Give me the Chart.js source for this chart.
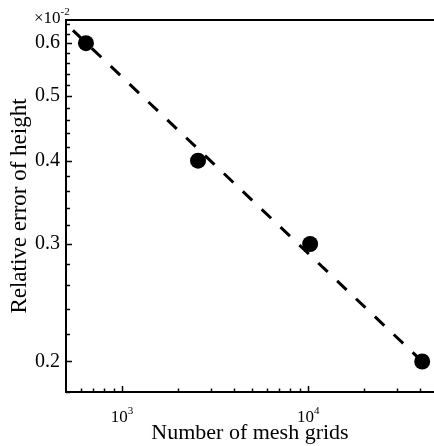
<!DOCTYPE html>
<html><head><meta charset="utf-8">
<style>html,body{margin:0;padding:0;background:#fff}</style>
<script src="https://cdn.jsdelivr.net/npm/chart.js@4"></script>
</head><body>
<canvas id="c" width="434" height="446" style="display:block;width:434px;height:446px"></canvas>
<script>
// ---- data ----
const meshGrids = [640, 2560, 10240, 40960];
const relError = [0.6, 0.4, 0.3, 0.2];           // x10^-2
const fitX = [545, 40960];
const fitY = [0.627, 0.2];
const xMajorTicks = [1000, 10000];
const xTickLabels = [['10', '3'], ['10', '4']];
const xMinorTicks = [600, 700, 800, 900, 2000, 3000, 4000, 5000, 6000, 7000, 8000, 9000, 20000, 30000, 40000];
const yMajorTicks = [0.2, 0.3, 0.4, 0.5, 0.6];
const yTickLabels = ['0.2', '0.3', '0.4', '0.5', '0.6'];
const yMinorTicks = [0.18, 0.22, 0.24, 0.26, 0.28, 0.32, 0.34, 0.36, 0.38, 0.42, 0.44, 0.46, 0.48, 0.52, 0.54, 0.56, 0.58, 0.62, 0.64];
const xRange = [500, 47400];
const yRange = [0.18, 0.65];
const xTitle = 'Number of mesh grids';
const yTitle = 'Relative error of height';
const yMultiplier = ['\u00d710', '-2'];

const FONT = 'Liberation Serif';
Chart.defaults.font.family = FONT;
Chart.defaults.color = '#000';

const axesPlugin = {
  id: 'axesPlugin',
  afterDraw(chart) {
    const ctx = chart.ctx;
    const a = chart.chartArea;
    const xs = chart.scales.x, ys = chart.scales.y;
    ctx.save();
    ctx.strokeStyle = '#000';
    ctx.lineCap = 'butt';
    // ticks
    ctx.lineWidth = 1.5;
    ctx.beginPath();
    yMajorTicks.forEach(v => { const p = Math.round(ys.getPixelForValue(v)) + 0.5; ctx.moveTo(a.left, p); ctx.lineTo(a.left + 6, p); });
    yMinorTicks.forEach(v => { const p = Math.round(ys.getPixelForValue(v)) + 0.5; ctx.moveTo(a.left, p); ctx.lineTo(a.left + 4, p); });
    xMajorTicks.forEach(v => { const p = Math.round(xs.getPixelForValue(v)) + 0.5; ctx.moveTo(p, a.bottom); ctx.lineTo(p, a.bottom - 6); });
    xMinorTicks.forEach(v => { const p = Math.round(xs.getPixelForValue(v)) + 0.5; ctx.moveTo(p, a.bottom); ctx.lineTo(p, a.bottom - 3.5); });
    ctx.stroke();
    // axis lines
    ctx.lineWidth = 2;
    ctx.beginPath();
    ctx.moveTo(a.left, a.top); ctx.lineTo(a.right, a.top);
    ctx.moveTo(a.left, a.top - 1); ctx.lineTo(a.left, a.bottom + 1);
    ctx.moveTo(a.left - 1, a.bottom); ctx.lineTo(a.right, a.bottom);
    ctx.stroke();
    // x tick labels with superscripts
    ctx.fillStyle = '#000';
    ctx.textBaseline = 'alphabetic';
    ctx.textAlign = 'left';
    xMajorTicks.forEach((v, i) => {
      const p = xs.getPixelForValue(v);
      const [base, sup] = xTickLabels[i];
      ctx.font = '17px "' + FONT + '"';
      const wb = ctx.measureText(base).width;
      ctx.font = '11px "' + FONT + '"';
      const ws = ctx.measureText(sup).width;
      const x0 = p - (wb + ws) / 2;
      ctx.font = '17px "' + FONT + '"';
      ctx.fillText(base, x0, a.bottom + 30);
      ctx.font = '11px "' + FONT + '"';
      ctx.fillText(sup, x0 + wb, a.bottom + 22);
    });
    // multiplier label
    ctx.font = '17px "' + FONT + '"';
    const wm = ctx.measureText(yMultiplier[0]).width;
    const mx = a.left - 32;
    ctx.fillText(yMultiplier[0], mx, a.top + 3);
    ctx.font = '11px "' + FONT + '"';
    ctx.fillText(yMultiplier[1], mx + wm, a.top - 5);
    ctx.restore();
  }
};

new Chart(document.getElementById('c'), {
  type: 'scatter',
  data: {
    datasets: [
      {
        data: fitX.map((x, i) => ({ x, y: fitY[i] })),
        showLine: true,
        borderColor: '#000',
        borderWidth: 3,
        borderDash: [13, 13],
        pointRadius: 0,
        fill: false,
        clip: false
      },
      {
        data: meshGrids.map((x, i) => ({ x, y: relError[i] })),
        showLine: false,
        pointRadius: 8,
        pointBackgroundColor: '#000',
        pointBorderWidth: 0,
        clip: false
      }
    ]
  },
  options: {
    responsive: false,
    animation: false,
    events: [],
    layout: { autoPadding: false, padding: { top: 20, right: 0, left: 0, bottom: 0 } },
    plugins: { legend: { display: false }, tooltip: { enabled: false } },
    scales: {
      x: {
        type: 'logarithmic',
        min: xRange[0], max: xRange[1],
        grid: { display: false, drawTicks: false },
        border: { display: false },
        ticks: { display: false },
        afterBuildTicks(s) { s.ticks = xMajorTicks.map(v => ({ value: v })); },
        afterFit(s) { s.height = 54; s.paddingLeft = 0; s.paddingRight = 0; },
        title: { display: true, text: xTitle, font: { size: 22, family: FONT }, color: '#000', padding: { top: 4, bottom: 0 } }
      },
      y: {
        type: 'logarithmic',
        min: yRange[0], max: yRange[1],
        grid: { display: false, drawTicks: false },
        border: { display: false },
        ticks: { font: { size: 20, family: FONT }, color: '#000', padding: 6, callback: (v, i) => yTickLabels[i] },
        afterBuildTicks(s) { s.ticks = yMajorTicks.map(v => ({ value: v })); },
        afterFit(s) { s.width = 66; s.paddingTop = 0; s.paddingBottom = 0; },
        title: { display: true, text: yTitle, font: { size: 23, family: FONT }, color: '#000', padding: { top: 6, bottom: 0 } }
      }
    }
  },
  plugins: [axesPlugin]
});
</script>
</body></html>
